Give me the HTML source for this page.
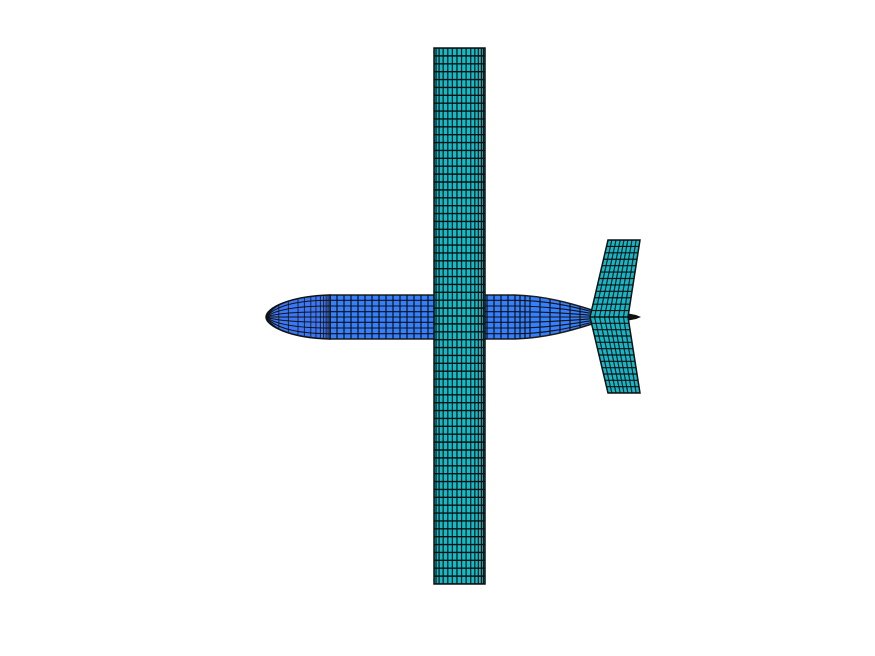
<!DOCTYPE html>
<html><head><meta charset="utf-8"><style>
html,body{margin:0;padding:0;background:#fff;}
svg{display:block;}
</style></head><body>
<svg id="plot" width="875" height="656" viewBox="0 0 875 656" xmlns="http://www.w3.org/2000/svg">
<defs>
<clipPath id="fusClip"><path d="M330,295 L515,295 C545,296 570,303 592,310 L592,324 C570,331 545,338 515,339 L330,339 Z"/></clipPath>
<clipPath id="noseClip"><path d="M330,295 C290,296 266,308 266,317 C266,326 290,338 330,339 Z"/></clipPath>
<clipPath id="wingClip"><rect x="434" y="48" width="51" height="536"/></clipPath>
<clipPath id="tailClip"><path d="M590,317 L608,240 L640,240 L628,317 L640,393 L608,393 Z"/></clipPath>
</defs>
<g id="fuselage">
<path d="M330,295 L515,295 C545,296 570,303 592,310 L592,324 C570,331 545,338 515,339 L330,339 Z" fill="#3580ff" stroke="#222" stroke-width="1.5"/>
<path d="M330,295 C290,296 266,308 266,317 C266,326 290,338 330,339 Z" fill="#3a78f8" stroke="#111" stroke-width="1.5"/>
<g id="fusGrid" clip-path="url(#fusClip)"></g>
<g id="noseGrid" clip-path="url(#noseClip)"></g>
<path d="M626,313 L636,315 L641,317 L636,319 L626,321 Z" fill="#111"/>
</g>
<g id="tail">
<path d="M590,317 L608,240 L640,240 L628,317 L640,393 L608,393 Z" fill="#12b8c8" stroke="#111" stroke-width="1.5"/>
<g id="tailGrid" clip-path="url(#tailClip)"></g>
</g>
<g id="wing">
<rect x="434" y="48" width="51" height="536" fill="#10bcc8" stroke="#111" stroke-width="1.5"/>
<g id="wingGrid" clip-path="url(#wingClip)"></g>
</g>
</svg>
<script>
const wingChordStations=[0,0.04,0.1,0.18,0.27,0.36,0.45,0.54,0.63,0.72,0.8,0.87,0.93,0.97,1];
const wingSpanDivisions=[68];
const fusStations=[0,7,14,21,28,35,42,49,56,63,70,77,84,91,98,104,150,157,164,171,178,185,190,195,200,210,220,230,240,250,262];
const fusRows=[0,0.12,0.25,0.38,0.5,0.62,0.75,0.88,1];
const noseStations=[0,0.2,0.35,0.5,0.6,0.7,0.78,0.85,0.9,0.94,0.97,1];
const tailSpanDivisions=[12];
const tailChordStations=[0,0.12,0.25,0.38,0.5,0.62,0.75,0.88,1];
const NS='http://www.w3.org/2000/svg';
function ln(g,x1,y1,x2,y2,w,c){const l=document.createElementNS(NS,'line');
l.setAttribute('x1',x1);l.setAttribute('y1',y1);l.setAttribute('x2',x2);l.setAttribute('y2',y2);
l.setAttribute('stroke',c||'#111');l.setAttribute('stroke-width',w||1);


g.appendChild(l);}
const wg=document.getElementById('wingGrid');
wingChordStations.forEach(s=>ln(wg,434+51*s,48,434+51*s,584,1.2));
const nS=wingSpanDivisions[0];
for(let i=0;i<=nS;i++){const y=48+536*i/nS;ln(wg,434,y,485,y,1.4);}
const fg=document.getElementById('fusGrid');
fusStations.forEach(d=>ln(fg,330+d,290,330+d,345,1.2));
fusRows.forEach(r=>{const y=295+44*r;const e=317+(y-317)*0.32;
const p=document.createElementNS(NS,'path');
p.setAttribute('d',`M330,${y} L515,${y} C545,${y} 570,${(y+e)/2} 592,${e}`);
p.setAttribute('fill','none');p.setAttribute('stroke','#111');p.setAttribute('stroke-width','1.1');


fg.appendChild(p);});
const ng=document.getElementById('noseGrid');
noseStations.forEach(s=>ln(ng,266+64*s,290,266+64*s,345,1,'#223'));
fusRows.forEach(r=>{const y=295+44*r;
const p=document.createElementNS(NS,'path');
p.setAttribute('d',`M266,317 Q${280},${y} 330,${y}`);
p.setAttribute('fill','none');p.setAttribute('stroke','#111');p.setAttribute('stroke-width','1');


ng.appendChild(p);});
const tg=document.getElementById('tailGrid');
const nT=tailSpanDivisions[0];
for(let i=0;i<=nT;i++){const t=i/nT;
const yu=317-77*t, yl=317+76*t;
const xl=590+18*t, xt=628+12*t;
ln(tg,xl,yu,xt,yu,1.2);ln(tg,xl,yl,xt,yl,1.2);}
tailChordStations.forEach(s=>{
ln(tg,590+38*s,317,608+32*s,240,1.1);
ln(tg,590+38*s,317,608+32*s,393,1.1);});
</script>
</body></html>
